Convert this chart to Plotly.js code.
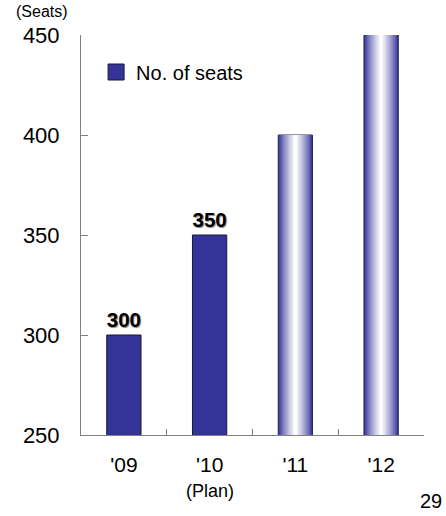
<!DOCTYPE html>
<html>
<head>
<meta charset="utf-8">
<script src="https://cdn.plot.ly/plotly-3.0.1.min.js"></script>
<style>html,body{margin:0;padding:0;background:#fff;}#chart{width:446px;height:516px;}</style>
</head>
<body>
<div id="chart"></div>
<script>
// ---- data ----
const categories = ["'09", "'10", "'11", "'12"];
const tickLabels = ["'09", "'10", "'11", "'12"];
const planNote = "(Plan)";
const planCategory = "'10";
const actualCats = ["'09", "'10"];
const actualSeats = [300, 350];
const forecastCats = ["'11", "'12"];
const forecastSeats = [400, 450];
const seriesName = "No. of seats";

const FONT = "Liberation Sans, Arial, sans-serif";
const BLUE = [51, 51, 153];

function mix(t) {
  const c = BLUE.map(v => Math.round(v + (255 - v) * t));
  return `rgb(${c[0]},${c[1]},${c[2]})`;
}

const traces = [];
traces.push({
  type: 'bar', x: actualCats, y: actualSeats, name: seriesName, width: 0.4,
  marker: {color: 'rgb(51,51,153)', line: {color: '#1a1a33', width: 1}},
  text: actualSeats.map(String), textposition: 'outside', cliponaxis: false,
  textfont: {family: FONT, size: 22, weight: 'bold', color: '#000', shadow: '1px 1px 1px #888'},
  showlegend: false
});

// gradient bars built from nested overlaid strips
const N = 14;
for (let k = 0; k < N; k++) {
  const t = Math.pow(k / (N - 1), 0.8);
  traces.push({
    type: 'bar', x: forecastCats, y: forecastSeats, width: 0.4 * (N - k) / N,
    marker: {color: mix(t), line: k === 0 ? {color: '#2a2a4a', width: 1} : {width: 0}},
    hoverinfo: 'skip', showlegend: false
  });
}

// legend entry for the series
traces.push({
  type: 'scatter', mode: 'markers', x: [null], y: [null], name: seriesName,
  marker: {symbol: 'square', size: 16, color: 'rgb(51,51,153)', line: {color: '#1a1a33', width: 1}},
  showlegend: true, hoverinfo: 'skip'
});

const layout = {
  width: 446, height: 516,
  margin: {l: 81, r: 22, t: 35, b: 81},
  paper_bgcolor: '#fff', plot_bgcolor: '#fff',
  barmode: 'overlay',
  font: {family: FONT, color: '#000'},
  xaxis: {
    type: 'category', categoryorder: 'array', categoryarray: categories,
    tickvals: categories, ticktext: tickLabels,
    tickson: 'boundaries', ticks: 'inside', ticklen: 6, tickcolor: '#808080',
    showline: true, linecolor: '#808080', linewidth: 1,
    showgrid: false, zeroline: false,
    tickfont: {family: FONT, size: 21}, ticklabelstandoff: 11
  },
  yaxis: {
    range: [250, 450], dtick: 50, ticks: 'inside', ticklen: 7, tickcolor: '#808080',
    showline: true, linecolor: '#808080', linewidth: 1,
    showgrid: false, zeroline: false,
    tickfont: {family: FONT, size: 22}, ticklabelstandoff: 16
  },
  legend: {
    x: 0.044, y: 0.9075, xanchor: 'left', yanchor: 'middle',
    bgcolor: 'rgba(0,0,0,0)', font: {family: FONT, size: 20}
  },
  annotations: [
    {text: '(Seats)', xref: 'paper', yref: 'paper', x: -0.1146, y: 1.0575, xanchor: 'center', yanchor: 'middle', showarrow: false, font: {family: FONT, size: 16}},
    {text: planNote, xref: 'x', yref: 'paper', x: planCategory, y: -0.14, xanchor: 'center', yanchor: 'middle', showarrow: false, font: {family: FONT, size: 18}},
    {text: '29', xref: 'paper', yref: 'paper', x: 1.0204, y: -0.165, xanchor: 'center', yanchor: 'middle', showarrow: false, font: {family: FONT, size: 20}}
  ]
};

Plotly.newPlot('chart', traces, layout, {displayModeBar: false, staticPlot: true});
</script>
</body>
</html>
